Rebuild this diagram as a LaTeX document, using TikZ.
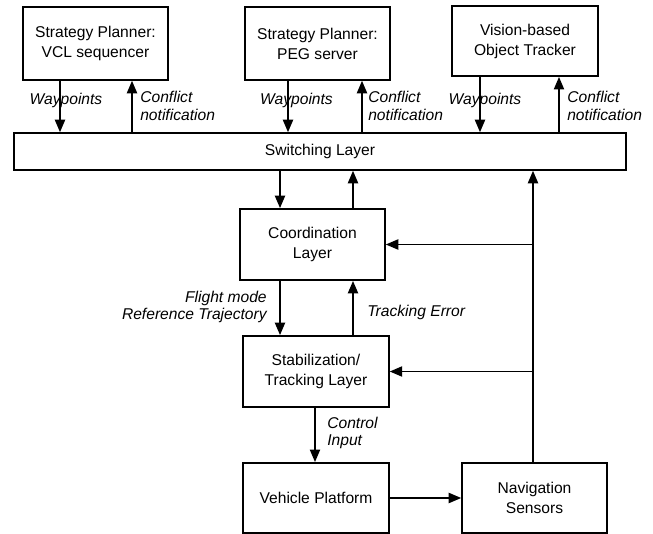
\documentclass[tikz,border=0pt]{standalone}
\usepackage{fontspec}
\setmainfont{Liberation Sans}
\usepackage{tikz}
\usetikzlibrary{arrows.meta, positioning}
\tikzstyle{layer} = [rectangle, draw=black, line width=1.1pt, align=center, inner sep=2pt, font=\fontsize{10}{12.8}\selectfont]
\tikzstyle{sig} = [align=left, inner sep=0pt, font=\fontsize{10}{11}\selectfont\itshape]
\tikzstyle{arrow} = [line width=1.1pt, -{Triangle[length=8pt,width=6.5pt]}]

\begin{document}
\begin{tikzpicture}[x=0.0225cm, y=-0.0225cm]
\useasboundingbox (0,0) rectangle (653,534);

\node[layer, minimum width=3.26cm, minimum height=1.64cm] (vcl) at (95.5,43.5) {Strategy Planner:\\VCL sequencer};
\node[layer, minimum width=3.26cm, minimum height=1.64cm] (peg) at (317.5,43.5) {Strategy Planner:\\PEG server};
\node[layer, minimum width=3.28cm, minimum height=1.58cm] (vision) at (525,41) {Vision-based\\Object Tracker};
\node[layer, minimum width=13.77cm, minimum height=0.83cm] (switch) at (320,151.5) {Switching Layer};
\node[layer, minimum width=3.26cm, minimum height=1.60cm] (coord) at (312.5,244.5) {Coordination\\Layer};
\node[layer, minimum width=3.28cm, minimum height=1.60cm] (stab) at (316,371.5) {Stabilization/\\Tracking Layer};
\node[layer, minimum width=3.28cm, minimum height=1.58cm] (vehicle) at (316,498) {Vehicle Platform};
\node[layer, minimum width=3.26cm, minimum height=1.58cm] (nav) at (534.5,498) {Navigation\\Sensors};

\draw[arrow] (vcl.south -| 60,0) -- (switch.north -| 60,0);
\draw[arrow] (switch.north -| 132,0) -- (vcl.south -| 132,0);
\draw[arrow] (peg.south -| 288,0) -- (switch.north -| 288,0);
\draw[arrow] (switch.north -| 362,0) -- (peg.south -| 362,0);
\draw[arrow] (vision.south -| 480,0) -- (switch.north -| 480,0);
\draw[arrow] (switch.north -| 559,0) -- (vision.south -| 559,0);

\draw[arrow] (switch.south -| 280,0) -- (coord.north -| 280,0);
\draw[arrow] (coord.north -| 353,0) -- (switch.south -| 353,0);
\draw[arrow] (coord.south -| 280,0) -- (stab.north -| 280,0);
\draw[arrow] (stab.north -| 353,0) -- (coord.south -| 353,0);
\draw[arrow] (stab.south -| 315,0) -- (vehicle.north -| 315,0);
\draw[arrow] (vehicle.east) -- (nav.west);

\draw[arrow] (nav.north -| 533,0) -- (switch.south -| 533,0);
\draw[arrow] (coord.east -| 533,0) -- (coord.east);
\draw[arrow] (stab.east -| 533,0) -- (stab.east);

\node[sig] (wp1) at (66,100) {Waypoints};
\node[sig, anchor=west] (cn1) at (140,106) {Conflict\\notification};
\node[sig] (wp2) at (296.5,100) {Waypoints};
\node[sig, anchor=west] (cn2) at (368,106) {Conflict\\notification};
\node[sig] (wp3) at (485,100) {Waypoints};
\node[sig, anchor=west] (cn3) at (567,106) {Conflict\\notification};
\node[sig, anchor=east, align=right] (ref) at (267,307) {Flight mode\\Reference Trajectory};
\node[sig, anchor=west] (err) at (367,312) {Tracking Error};
\node[sig, anchor=west] (ctrl) at (327,433) {Control\\Input};
\end{tikzpicture}
\end{document}
